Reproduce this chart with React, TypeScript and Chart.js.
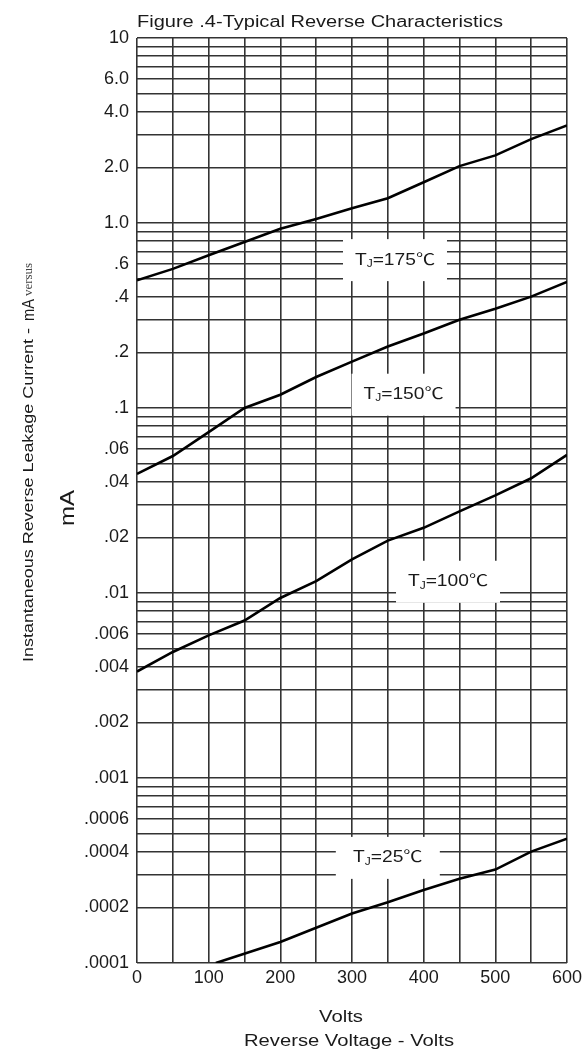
import React, { useEffect, useRef } from "react";
import { Chart, registerables } from "chart.js";

Chart.register(...registerables);

// ---- Data ----
const voltages175 = [0, 50, 100, 150, 200, 250, 300, 350, 400, 450, 500, 550, 600];
const current175 = [0.49, 0.565, 0.67, 0.79, 0.93, 1.05, 1.2, 1.36, 1.66, 2.03, 2.32, 2.84, 3.37];

const voltages150 = [0, 50, 100, 150, 200, 250, 300, 350, 400, 450, 500, 550, 600];
const current150 = [0.044, 0.055, 0.074, 0.1, 0.118, 0.147, 0.178, 0.215, 0.253, 0.3, 0.344, 0.4, 0.48];

const voltages100 = [0, 50, 100, 150, 200, 250, 300, 350, 400, 450, 500, 550, 600];
const current100 = [0.00376, 0.0048, 0.0059, 0.0071, 0.0094, 0.0116, 0.0152, 0.0192, 0.0225, 0.0276, 0.0337, 0.0417, 0.0558];

const voltages25 = [110, 200, 300, 350, 400, 450, 500, 550, 600];
const current25 = [0.0001, 0.00013, 0.000185, 0.000213, 0.000248, 0.000285, 0.00032, 0.0004, 0.00047];

const curveTemps = ["175", "150", "100", "25"];
const curveLabelV = [360, 372, 434, 350];
const curveLabelI = [0.63, 0.118, 0.0115, 0.00037];

const yLabelValues = [10, 6, 4, 2, 1, 0.6, 0.4, 0.2, 0.1, 0.06, 0.04, 0.02, 0.01, 0.006, 0.004, 0.002, 0.001, 0.0006, 0.0004, 0.0002, 0.0001];
const yLabelTexts = ["10", "6.0", "4.0", "2.0", "1.0", ".6", ".4", ".2", ".1", ".06", ".04", ".02", ".01", ".006", ".004", ".002", ".001", ".0006", ".0004", ".0002", ".0001"];
const yDecades = [-4, -3, -2, -1, 0];
const yMantissas = [1, 2, 3, 4, 5, 6, 7, 8, 9];

const xMin = 0;
const xMax = 600;
const xGridStep = 50;
const xLabelStep = 100;

const titleText = "Figure .4-Typical Reverse Characteristics";
const yTitleMain = "Instantaneous Reverse Leakage Current - ";
const yTitleUnit = "mA";
const yTitleTail = "versus";
const yUnitLabel = "mA";
const xTitle1 = "Volts";
const xTitle2 = "Reverse Voltage - Volts";

const SANS = '"Liberation Sans", Arial, "Noto Sans CJK SC", sans-serif';

function toPoints(xs: number[], ys: number[]) {
  return xs.map((x, i) => ({ x, y: ys[i] }));
}

function fitText(ctx: CanvasRenderingContext2D, text: string, x: number, y: number, font: string, width: number, align: "left" | "center") {
  ctx.save();
  ctx.font = font;
  const w = ctx.measureText(text).width;
  const s = width / w;
  ctx.translate(x, y);
  ctx.scale(s, 1);
  ctx.textAlign = align;
  ctx.textBaseline = "middle";
  ctx.fillText(text, 0, 0);
  ctx.restore();
}

const textPlugin = {
  id: "textPlugin",
  afterDatasetsDraw(chart: any) {
    const ctx: CanvasRenderingContext2D = chart.ctx;
    const xs = chart.scales.x;
    const ys = chart.scales.y;
    ctx.save();
    ctx.fillStyle = "#1a1a1a";

    // curve labels with white boxes
    for (let i = 0; i < curveTemps.length; i++) {
      const cx = xs.getPixelForValue(curveLabelV[i]);
      const cy = ys.getPixelForValue(curveLabelI[i]);
      ctx.fillStyle = "#fff";
      ctx.fillRect(cx - 52, cy - 21, 104, 42);
      ctx.fillStyle = "#1a1a1a";
      const big = "16px " + SANS;
      const small = "10px " + SANS;
      ctx.font = big;
      const wT = ctx.measureText("T").width;
      const rest = "=" + curveTemps[i] + "℃";
      const wR = ctx.measureText(rest).width;
      ctx.font = small;
      const wJ = ctx.measureText("J").width;
      const total = wT + wJ + wR;
      const sx = 1.2;
      ctx.save();
      ctx.translate(cx, cy);
      ctx.scale(sx, 1);
      ctx.textBaseline = "middle";
      ctx.textAlign = "left";
      let px = -total / 2;
      ctx.font = big;
      ctx.fillText("T", px, 0);
      px += wT;
      ctx.font = small;
      ctx.fillText("J", px, 4);
      px += wJ;
      ctx.font = big;
      ctx.fillText(rest, px, 0);
      ctx.restore();
    }

    // title
    ctx.fillStyle = "#1a1a1a";
    fitText(ctx, titleText, 137, 23, "16px " + SANS, 366, "left");

    // x titles
    fitText(ctx, xTitle1, 341, 1018, "16px " + SANS, 44, "center");
    fitText(ctx, xTitle2, 349, 1042, "16px " + SANS, 210, "center");

    // big mA unit label (rotated)
    ctx.save();
    ctx.translate(68, 508);
    ctx.rotate(-Math.PI / 2);
    fitText(ctx, yUnitLabel, 0, 0, "20px " + SANS, 36, "center");
    ctx.restore();

    // long y title (rotated)
    ctx.save();
    ctx.translate(29, 662);
    ctx.rotate(-Math.PI / 2);
    fitText(ctx, yTitleMain, 0, 0, "14px " + SANS, 339, "left");
    fitText(ctx, yTitleUnit, 341, 0, "17px " + SANS, 22, "left");
    ctx.fillStyle = "#444";
    fitText(ctx, yTitleTail, 366, 0, "13px \"Liberation Serif\", serif", 33, "left");
    ctx.restore();

    ctx.restore();
  },
};

export default function App() {
  const ref = useRef<HTMLCanvasElement | null>(null);

  useEffect(() => {
    if (!ref.current) return;
    const lineStyle = {
      borderColor: "#000",
      borderWidth: 2.6,
      pointRadius: 0,
      fill: false,
      tension: 0,
    };
    const chart = new Chart(ref.current, {
      type: "line",
      data: {
        datasets: [
          { label: "TJ=175℃", data: toPoints(voltages175, current175), ...lineStyle },
          { label: "TJ=150℃", data: toPoints(voltages150, current150), ...lineStyle },
          { label: "TJ=100℃", data: toPoints(voltages100, current100), ...lineStyle },
          { label: "TJ=25℃", data: toPoints(voltages25, current25), ...lineStyle },
        ],
      },
      options: {
        responsive: false,
        animation: false,
        events: [],
        layout: { padding: { top: 38, right: 15, left: 0, bottom: 0 } },
        plugins: {
          legend: { display: false },
          tooltip: { enabled: false },
          title: { display: false },
        },
        scales: {
          x: {
            type: "linear",
            min: xMin,
            max: xMax,
            border: { display: false },
            grid: { color: "#333", lineWidth: 1.6, drawTicks: false },
            ticks: {
              stepSize: xGridStep,
              autoSkip: false,
              maxRotation: 0,
              padding: 4,
              color: "#1a1a1a",
              font: { family: SANS, size: 18 },
              callback: (v: any) => (Number(v) % xLabelStep === 0 ? String(v) : ""),
            },
            afterFit: (scale: any) => {
              scale.height = 91;
            },
          },
          y: {
            type: "logarithmic",
            min: 0.0001,
            max: 10,
            border: { display: false },
            grid: { color: "#333", lineWidth: 1.6, drawTicks: false },
            afterBuildTicks: (scale: any) => {
              const t: any[] = [];
              for (const e of yDecades) {
                for (const m of yMantissas) {
                  t.push({ value: Number((m * Math.pow(10, e)).toPrecision(3)) });
                }
              }
              t.push({ value: 10 });
              scale.ticks = t;
            },
            ticks: {
              autoSkip: false,
              padding: 8,
              color: "#1a1a1a",
              font: { family: SANS, size: 18 },
              callback: (v: any) => {
                const n = Number(v);
                const idx = yLabelValues.findIndex((q) => Math.abs(q - n) / q < 1e-6);
                return idx >= 0 ? yLabelTexts[idx] : "";
              },
            },
            afterFit: (scale: any) => {
              scale.width = 137;
            },
          },
        },
      },
      plugins: [textPlugin],
    } as any);
    return () => chart.destroy();
  }, []);

  return (
    <div style={{ position: "absolute", left: 0, top: 0, width: 586, height: 1054, background: "#fff" }}>
      <canvas ref={ref} width={586} height={1054} style={{ display: "block", width: 586, height: 1054 }} />
    </div>
  );
}
